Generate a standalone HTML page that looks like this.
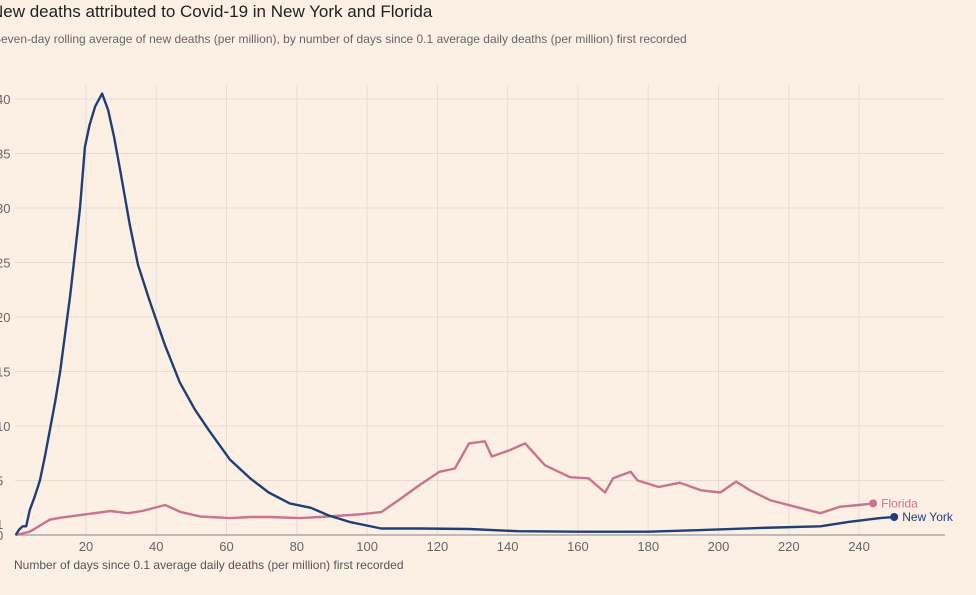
<!DOCTYPE html>
<html><head><meta charset="utf-8"><style>
html,body{margin:0;padding:0;background:#fcf0e5;width:976px;height:595px;overflow:hidden;font-family:"Liberation Sans",sans-serif}
</style></head><body>
<svg id="c" width="976" height="595" style="position:absolute;left:0;top:0">
<text x="-9" y="17" font-size="17" fill="#222">New deaths attributed to Covid-19 in New York and Florida</text>
<text x="-7" y="43" font-size="12" fill="#666">Seven-day rolling average of new deaths (per million), by number of days since 0.1 average daily deaths (per million) first recorded</text>
<text x="14" y="569" font-size="12" fill="#555">Number of days since 0.1 average daily deaths (per million) first recorded</text>
<g id="grid"></g><g id="series"></g>
</svg>
<script>
const yTicks=[0,1,5,10,15,20,25,30,35,40];
const yTickLabels=['0','1','5','10','15','20','25','30','35','40'];
const xTicks=[20,40,60,80,100,120,140,160,180,200,220,240];
const nyDays=[0,1,2,3,4,5.5,6.9,8.3,9.7,11.2,12.6,14,15.5,17,18.3,19.7,21,22.6,24.6,26.3,28,29.7,32.5,34.8,38,42.5,46.7,51,55,61,66.7,72,78,84,89,95,104,115,129,143,160,180,195,212,229,237,246,250];
const nyVals=[0,0.5,0.8,0.8,2.3,3.6,5,7.2,9.6,12.2,14.9,18.3,22,26.2,30,35.6,37.6,39.3,40.5,39,36.5,33.5,28.4,24.8,21.6,17.4,14,11.5,9.6,6.9,5.2,3.9,2.9,2.5,1.8,1.2,0.6,0.6,0.55,0.35,0.3,0.3,0.45,0.65,0.8,1.2,1.55,1.65];
const flDays=[0,4,9.7,13,20,27,32,36,42.5,47,52.5,61,67,72,81,89,98,104,109,115,120.6,125,129,133.5,135.5,140.7,145,150.6,157.7,163,167.7,170,175,177,183,189,195,200.5,205,209,214.6,223,229,234.6,240,244];
const flVals=[0,0.3,1.4,1.6,1.9,2.2,2.0,2.2,2.75,2.1,1.7,1.55,1.65,1.65,1.55,1.7,1.9,2.1,3.2,4.6,5.8,6.1,8.4,8.6,7.2,7.8,8.4,6.4,5.3,5.2,3.9,5.2,5.8,5.0,4.4,4.8,4.1,3.9,4.9,4.1,3.2,2.5,2.0,2.6,2.75,2.9];
const X=d=>15.7+d*3.514, Y=v=>535-v*10.9;
const NS='http://www.w3.org/2000/svg';
const grid=document.getElementById('grid'), ser=document.getElementById('series');
function mk(tag,attrs,parent){const e=document.createElementNS(NS,tag);for(const k in attrs)e.setAttribute(k,attrs[k]);parent.appendChild(e);return e;}
yTicks.forEach((t,i)=>{
  if(t>1){const l=mk('line',{x1:15,x2:945,y1:Y(t),y2:Y(t),stroke:'#e6dcd3','stroke-width':1},grid);
  
  }
  const tx=mk('text',{x:-4,y:Y(t)+5,'font-size':13,fill:'#666'},grid);tx.textContent=yTickLabels[i];
  
  
});
xTicks.forEach(t=>{
  const l=mk('line',{x1:X(t),x2:X(t),y1:85,y2:535,stroke:'#e6dcd3','stroke-width':1},grid);
  
  
  const tx=mk('text',{x:X(t),y:551,'font-size':13,fill:'#666','text-anchor':'middle'},grid);tx.textContent=t;
  
  
});
const ax=mk('line',{x1:15,x2:945,y1:535,y2:535,stroke:'#999','stroke-width':1.3},grid);


function series(days,vals,color,name,label){
  const d=days.map((x,i)=>(i?'L':'M')+X(x).toFixed(1)+','+Y(vals[i]).toFixed(1)).join('');
  const p=mk('path',{d:d,fill:'none',stroke:color,'stroke-width':2.4,'stroke-linejoin':'round'},ser);
  
  
  const n=days.length-1;
  const c=mk('circle',{cx:X(days[n]),cy:Y(vals[n]),r:4,fill:color},ser);
  
  
  const t=mk('text',{x:X(days[n])+8,y:Y(vals[n])+4,'font-size':12,fill:color},ser);t.textContent=label;
  
  
}
series(flDays,flVals,'#c9738f','florida','Florida');
series(nyDays,nyVals,'#1f3f78','new-york','New York');
</script>
</body></html>
